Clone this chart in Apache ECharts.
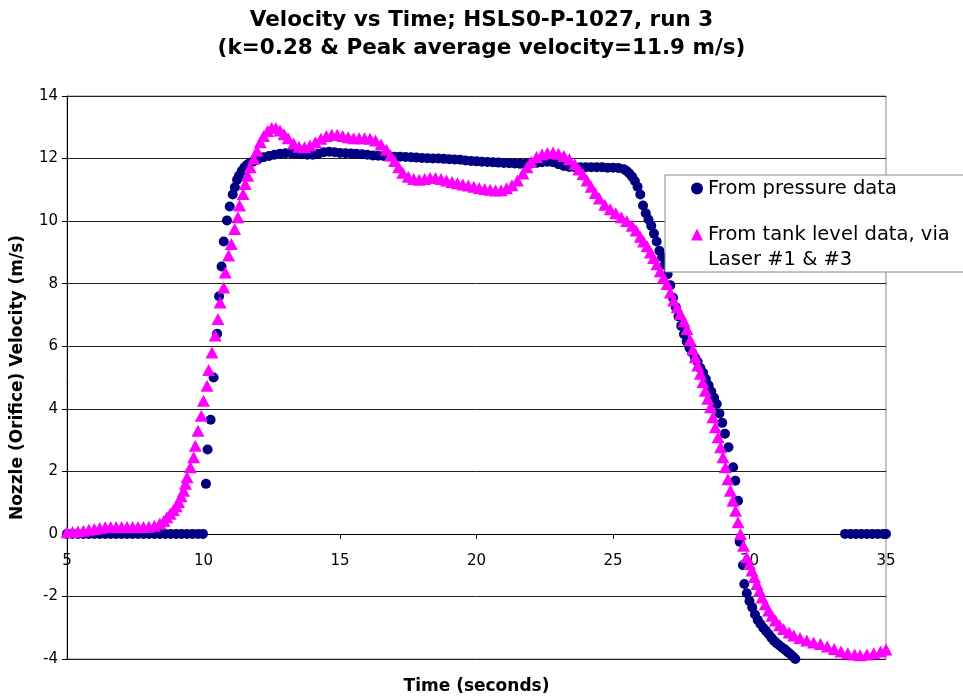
<!DOCTYPE html>
<html>
<head>
<meta charset="utf-8">
<script src="https://cdn.jsdelivr.net/npm/echarts@6/dist/echarts.min.js"></script>
<style>
html,body{margin:0;padding:0;background:#fff;}
#chart{width:963px;height:698px;}
</style>
</head>
<body>
<div id="chart"></div>
<script>
const titleLines = ['Velocity vs Time; HSLS0-P-1027, run 3', '(k=0.28 & Peak average velocity=11.9 m/s)'];
const xAxisName = 'Time (seconds)';
const yAxisName = 'Nozzle (Orifice) Velocity (m/s)';
const seriesNames = ['From pressure data', 'From tank level data, via\nLaser #1 & #3'];
const xTicks = { min: 5, max: 35, interval: 5 };
const yTicks = { min: -4, max: 14, interval: 2 };

// [time (s), velocity (m/s)]
const pressureData = [
  [5.0,0],[5.2,0],[5.4,0],[5.6,0],[5.8,0],[6.0,0],[6.2,0],[6.4,0],[6.6,0],[6.8,0],[7.0,0],[7.2,0],[7.4,0],[7.6,0],[7.8,0],
  [8.0,0],[8.2,0],[8.4,0],[8.6,0],[8.8,0],[9.0,0],[9.2,0],[9.4,0],[9.6,0],[9.8,0],[9.98,0],
  [10.09,1.6],[10.15,2.7],[10.26,3.65],[10.37,5.0],[10.5,6.4],[10.57,7.6],[10.66,8.55],[10.74,9.35],[10.86,10.02],
  [10.96,10.47],[11.07,10.85],[11.15,11.08],[11.23,11.32],[11.3,11.45],[11.4,11.6],[11.5,11.72],[11.6,11.8],[11.7,11.86],
  [11.8,11.9],[11.9,11.95],[12.0,11.98],[12.2,12.04],[12.4,12.08],[12.6,12.12],[12.8,12.15],[13.0,12.17],[13.2,12.17],
  [13.4,12.15],[13.6,12.14],[13.8,12.12],[14.0,12.12],[14.2,12.15],[14.4,12.2],[14.6,12.22],[14.8,12.2],[15.0,12.18],
  [15.2,12.17],[15.4,12.16],[15.6,12.15],[15.8,12.14],[16.0,12.12],[16.2,12.1],[16.4,12.09],[16.6,12.08],[16.8,12.07],
  [17.0,12.06],[17.2,12.06],[17.4,12.05],[17.6,12.04],[17.8,12.03],[18.0,12.02],[18.2,12.01],[18.4,12.0],[18.6,12.0],
  [18.8,11.99],[19.0,11.98],[19.2,11.97],[19.4,11.96],[19.6,11.94],[19.8,11.92],[20.0,11.91],[20.2,11.9],[20.4,11.89],
  [20.6,11.88],[20.8,11.87],[21.0,11.86],[21.2,11.85],[21.4,11.84],[21.6,11.83],[21.8,11.83],[22.0,11.84],[22.2,11.86],
  [22.4,11.88],[22.6,11.9],[22.8,11.88],[23.0,11.82],[23.2,11.76],[23.4,11.73],[23.6,11.72],[23.8,11.72],[24.0,11.72],
  [24.2,11.72],[24.4,11.72],[24.6,11.72],[24.8,11.71],[25.0,11.71],[25.2,11.7],[25.4,11.66],[25.5,11.6],[25.6,11.52],
  [25.7,11.42],[25.8,11.28],[25.9,11.1],[26.0,10.85],[26.1,10.5],[26.2,10.25],[26.3,10.05],[26.4,9.85],[26.5,9.6],
  [26.6,9.35],[26.7,9.05],[26.8,8.85],[26.9,8.6],[27.0,8.3],[27.1,7.95],[27.2,7.55],[27.3,7.25],[27.4,6.95],[27.5,6.65],
  [27.6,6.38],[27.7,6.15],[27.8,5.95],[27.9,5.8],[28.0,5.65],[28.1,5.5],[28.2,5.3],[28.3,5.15],[28.4,4.95],[28.5,4.75],
  [28.6,4.55],[28.7,4.35],[28.8,4.15],[28.9,3.85],[29.0,3.55],[29.1,3.2],[29.23,2.77],[29.4,2.13],[29.48,1.7],[29.58,1.06],
  [29.64,-0.25],[29.76,-1.0],[29.81,-1.6],[29.9,-1.9],[30.0,-2.15],[30.1,-2.35],[30.2,-2.58],[30.3,-2.75],[30.4,-2.88],
  [30.5,-3.0],[30.6,-3.1],[30.7,-3.2],[30.8,-3.32],[30.9,-3.42],[31.0,-3.5],[31.1,-3.57],[31.2,-3.64],[31.3,-3.7],
  [31.4,-3.78],[31.5,-3.85],[31.6,-3.93],[31.68,-4.0],
  [33.5,0],[33.7,0],[33.9,0],[34.1,0],[34.3,0],[34.5,0],[34.7,0],[34.9,0],[35.0,0]
];

const tankLevelData = [
  [5.0,0.05],[5.2,0.06],[5.4,0.08],[5.6,0.1],[5.8,0.13],[6.0,0.16],[6.2,0.19],[6.4,0.21],[6.6,0.22],[6.8,0.22],[7.0,0.22],
  [7.2,0.22],[7.4,0.22],[7.6,0.22],[7.8,0.22],[8.0,0.23],[8.2,0.26],[8.4,0.33],[8.55,0.42],[8.66,0.53],[8.78,0.64],
  [8.9,0.76],[9.0,0.88],[9.09,1.02],[9.18,1.2],[9.27,1.38],[9.34,1.6],[9.4,1.81],[9.52,2.13],[9.64,2.45],[9.7,2.82],
  [9.8,3.3],[9.92,3.78],[10.0,4.26],[10.13,4.74],[10.19,5.24],[10.31,5.8],[10.43,6.34],[10.53,6.87],[10.61,7.4],
  [10.74,7.88],[10.8,8.36],[10.92,8.9],[11.02,9.27],[11.14,9.75],[11.26,10.12],[11.32,10.5],[11.45,10.87],[11.53,11.19],
  [11.62,11.45],[11.71,11.72],[11.84,11.99],[11.96,12.25],[12.08,12.52],[12.2,12.72],[12.35,12.88],[12.5,12.98],
  [12.65,12.98],[12.8,12.9],[12.95,12.78],[13.1,12.65],[13.3,12.48],[13.5,12.38],[13.7,12.36],[13.9,12.42],[14.1,12.52],
  [14.3,12.63],[14.5,12.72],[14.7,12.76],[14.9,12.76],[15.1,12.72],[15.3,12.68],[15.5,12.65],[15.7,12.65],[15.9,12.65],
  [16.1,12.63],[16.3,12.58],[16.5,12.45],[16.7,12.28],[16.85,12.1],[17.0,11.92],[17.15,11.72],[17.3,11.55],[17.5,11.42],
  [17.7,11.35],[17.9,11.32],[18.1,11.35],[18.3,11.38],[18.5,11.38],[18.7,11.35],[18.9,11.3],[19.1,11.25],[19.3,11.21],
  [19.5,11.17],[19.7,11.14],[19.9,11.1],[20.1,11.06],[20.3,11.03],[20.5,11.0],[20.7,10.98],[20.9,10.99],[21.1,11.05],
  [21.3,11.15],[21.5,11.3],[21.7,11.52],[21.85,11.72],[22.0,11.9],[22.2,12.05],[22.4,12.13],[22.6,12.18],[22.8,12.19],
  [23.0,12.15],[23.2,12.08],[23.4,11.98],[23.6,11.82],[23.75,11.65],[23.9,11.5],[24.05,11.3],[24.2,11.1],[24.35,10.9],
  [24.5,10.72],[24.7,10.52],[24.9,10.38],[25.1,10.25],[25.3,10.12],[25.5,10.0],[25.7,9.85],[25.85,9.7],[26.0,9.5],
  [26.12,9.35],[26.25,9.2],[26.37,9.0],[26.49,8.82],[26.61,8.62],[26.73,8.4],[26.85,8.2],[26.98,7.99],[27.1,7.72],
  [27.22,7.46],[27.35,7.25],[27.47,7.03],[27.6,6.8],[27.71,6.55],[27.83,6.2],[27.92,5.9],[28.01,5.65],[28.1,5.38],
  [28.2,5.12],[28.29,4.85],[28.38,4.58],[28.47,4.32],[28.57,4.05],[28.66,3.73],[28.75,3.41],[28.85,3.09],[28.94,2.77],
  [29.03,2.45],[29.12,2.13],[29.21,1.75],[29.3,1.38],[29.39,1.06],[29.49,0.74],[29.58,0.37],[29.67,0.0],[29.78,-0.38],
  [29.9,-0.75],[30.0,-0.96],[30.09,-1.17],[30.18,-1.38],[30.27,-1.6],[30.37,-1.82],[30.46,-2.03],[30.58,-2.25],
  [30.7,-2.45],[30.82,-2.62],[30.95,-2.77],[31.1,-2.92],[31.25,-3.04],[31.45,-3.15],[31.62,-3.25],[31.85,-3.33],
  [32.1,-3.41],[32.35,-3.47],[32.6,-3.52],[32.85,-3.6],[33.1,-3.68],[33.35,-3.76],[33.6,-3.82],[33.85,-3.86],
  [34.05,-3.88],[34.3,-3.86],[34.55,-3.82],[34.8,-3.76],[35.0,-3.7]
];

const chart = echarts.init(document.getElementById('chart'), null, { renderer: 'canvas' });
const FONT = 'DejaVu Sans';
chart.setOption({
  animation: false,
  backgroundColor: '#ffffff',
  textStyle: { fontFamily: FONT },
  title: {
    text: titleLines.join('\n'),
    left: 'center',
    top: 1,
    textStyle: { fontFamily: FONT, fontSize: 21.5, fontWeight: 'bold', color: '#000', lineHeight: 28 }
  },
  grid: {
    left: 67, right: 77, top: 96, bottom: 39,
    outerBounds: { left: -2000, top: -2000, right: -2000, bottom: -2000 },
    show: true, borderColor: '#888888', borderWidth: 1, backgroundColor: 'transparent'
  },
  legend: {
    orient: 'vertical',
    left: 665,
    top: 175,
    padding: [1, 60, 0, 26],
    itemGap: -4,
    itemWidth: 12,
    itemHeight: 12,
    backgroundColor: '#ffffff',
    borderColor: '#888888',
    borderWidth: 1,
    borderRadius: 0,
    selectedMode: false,
    formatter: function (name) { return name === seriesNames[1] ? '\n' + name : name; },
    textStyle: { fontFamily: FONT, fontSize: 19.5, color: '#000', lineHeight: 25 },
    data: [ seriesNames[0], seriesNames[1] ]
  },
  xAxis: {
    type: 'value',
    min: xTicks.min, max: xTicks.max, interval: xTicks.interval,
    name: xAxisName,
    nameLocation: 'middle',
    nameGap: 19,
    nameTextStyle: { fontFamily: FONT, fontSize: 17, fontWeight: 'bold', color: '#000' },
    axisLine: { onZero: true, lineStyle: { color: '#000', width: 1 } },
    axisTick: { show: true, inside: false, length: 5, lineStyle: { color: '#000' } },
    axisLabel: { fontFamily: FONT, fontSize: 15, color: '#000', margin: -105 },
    splitLine: { show: false }
  },
  yAxis: {
    type: 'value',
    min: yTicks.min, max: yTicks.max, interval: yTicks.interval,
    name: yAxisName,
    nameLocation: 'middle',
    nameGap: 41,
    nameRotate: 90,
    nameTextStyle: { fontFamily: FONT, fontSize: 17, fontWeight: 'bold', color: '#000' },
    axisLine: { show: true, lineStyle: { color: '#000', width: 1 } },
    axisTick: { show: true, inside: false, length: 5, lineStyle: { color: '#000' } },
    axisLabel: { fontFamily: FONT, fontSize: 15, color: '#000', margin: 9 },
    splitLine: { show: true, lineStyle: { color: '#222', width: 1 } }
  },
  series: [
    {
      name: seriesNames[0],
      type: 'scatter',
      symbol: 'circle',
      symbolSize: 10,
      itemStyle: { color: '#000080', opacity: 1 },
      data: pressureData,
      z: 2
    },
    {
      name: seriesNames[1],
      type: 'scatter',
      symbol: 'triangle',
      symbolSize: [13, 12],
      itemStyle: { color: '#ff00ff', opacity: 1 },
      data: tankLevelData,
      z: 3
    }
  ]
});
</script>
</body>
</html>
